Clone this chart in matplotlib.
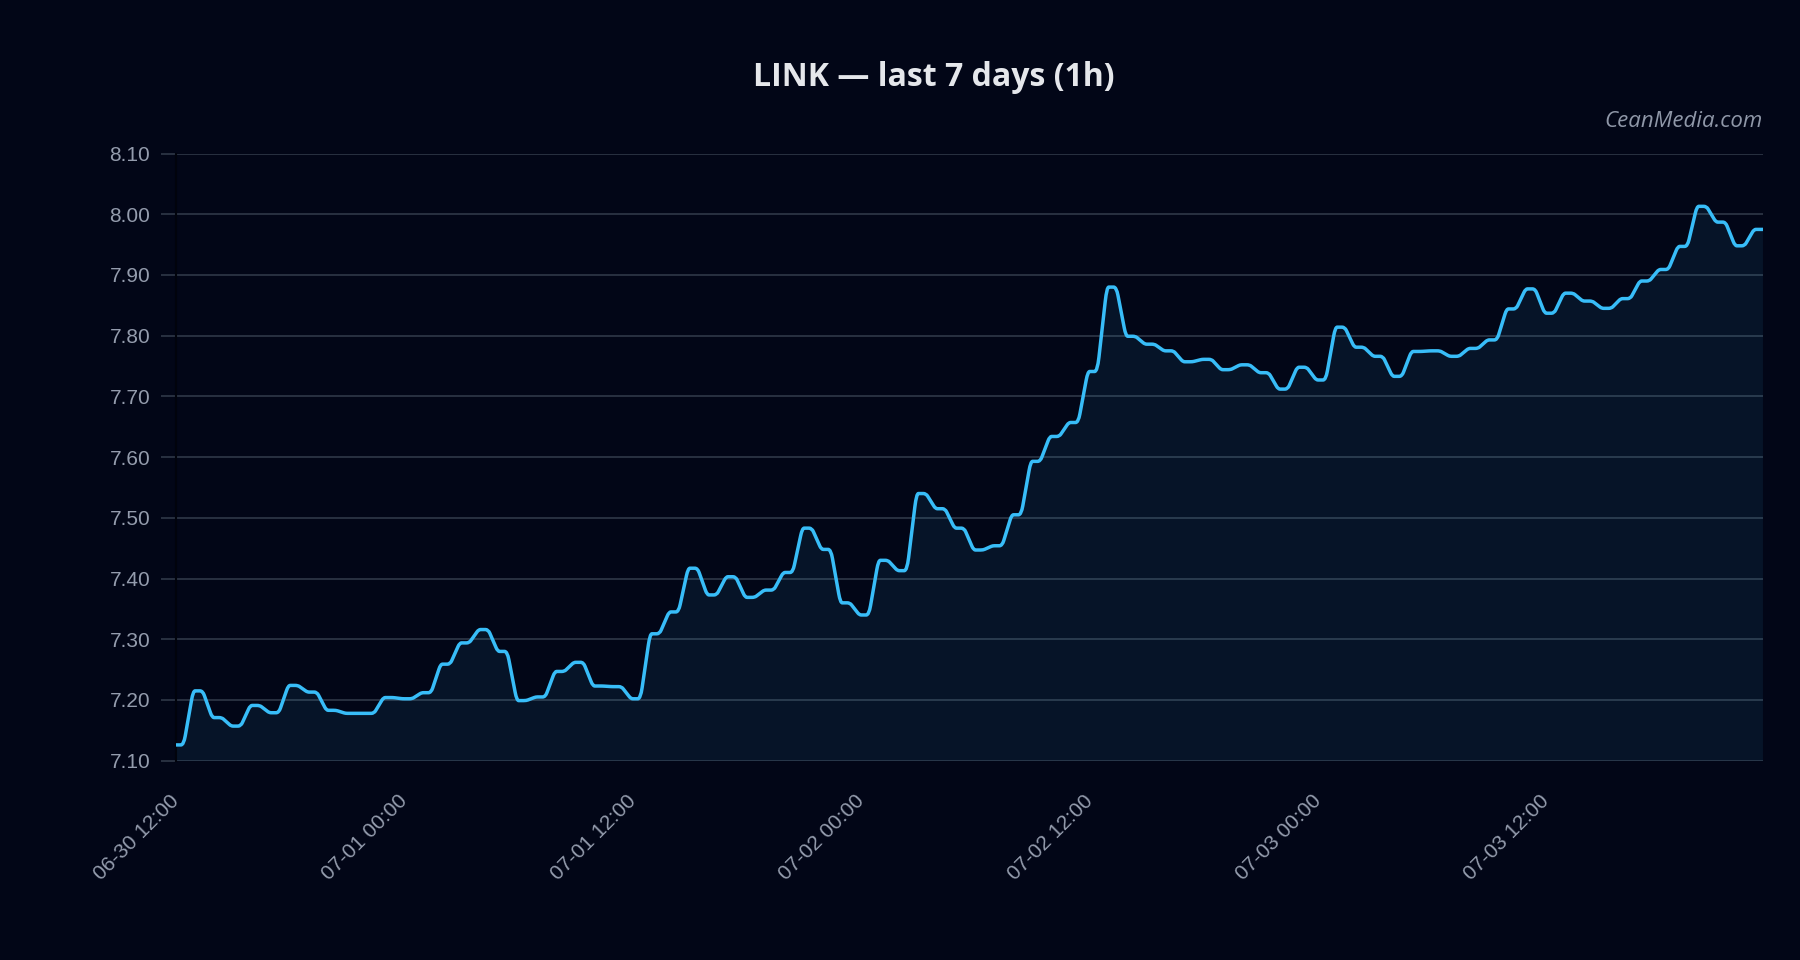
import datetime as dt
import matplotlib
matplotlib.use('Agg')
import matplotlib.pyplot as plt
import matplotlib.dates as mdates
from matplotlib.path import Path
from matplotlib.patches import PathPatch

# hourly LINK closes from 06-30 12:00, last value is the live tick at 23:22
start = dt.datetime(2025, 6, 30, 12, 0)
prices = [
    7.126, 7.215, 7.171, 7.157, 7.191, 7.179, 7.224, 7.213, 7.183, 7.178,
    7.178, 7.204, 7.202, 7.212, 7.259, 7.294, 7.316, 7.280, 7.199, 7.205,
    7.247, 7.262, 7.223, 7.222, 7.202, 7.309, 7.345, 7.417, 7.373, 7.403,
    7.369, 7.381, 7.410, 7.483, 7.448, 7.360, 7.340, 7.430, 7.413, 7.540,
    7.515, 7.483, 7.447, 7.454, 7.505, 7.593, 7.634, 7.657, 7.741, 7.880,
    7.799, 7.786, 7.775, 7.757, 7.761, 7.744, 7.752, 7.739, 7.712, 7.748,
    7.727, 7.814, 7.781, 7.766, 7.733, 7.774, 7.775, 7.766, 7.779, 7.793,
    7.844, 7.877, 7.837, 7.870, 7.857, 7.845, 7.861, 7.890, 7.909, 7.947,
    8.013, 7.987, 7.948, 7.975,
]
last_price = 7.975
last_time = dt.datetime(2025, 7, 3, 23, 22)

times = [start + dt.timedelta(hours=i) for i in range(len(prices))] + [last_time]
prices = prices + [last_price]

y_ticks = [7.10, 7.20, 7.30, 7.40, 7.50, 7.60, 7.70, 7.80, 7.90, 8.00, 8.10]
x_ticks = [start + dt.timedelta(hours=12 * i) for i in range(7)]
title = 'LINK \u2014 last 7 days (1h)'
credit = 'CeanMedia.com'

BG = '#020617'
LINE = '#38bdf8'
GRID = '#2c3444'
TXT = '#949cad'

xs = mdates.date2num(times)

# each hour: hold the level, then a quick ramp into the next one,
# corners rounded with quadratic beziers
A, B = 0.40, 0.90      # ramp start / end as fraction of the interval
rh = 0.14              # horizontal rounding (fraction of interval)
rr = 0.17              # rounding along the ramp (fraction of ramp)
verts = [(xs[0], prices[0])]
codes = [Path.MOVETO]
for i in range(len(xs) - 1):
    x0, y0, x1, y1 = xs[i], prices[i], xs[i + 1], prices[i + 1]
    d = x1 - x0
    ax_, bx_ = x0 + A * d, x0 + B * d
    rx, ry = bx_ - ax_, y1 - y0
    verts += [(ax_ - rh * d, y0),
              (ax_, y0), (ax_ + rr * rx, y0 + rr * ry),
              (bx_ - rr * rx, y1 - rr * ry),
              (bx_, y1), (min(bx_ + rh * d * 0.7, x1), y1),
              (x1, y1)]
    codes += [Path.LINETO,
              Path.CURVE3, Path.CURVE3,
              Path.LINETO,
              Path.CURVE3, Path.CURVE3,
              Path.LINETO]

ymin, ymax = y_ticks[0], y_ticks[-1]
fill_verts = verts + [(xs[-1], ymin), (xs[0], ymin), (xs[0], prices[0])]
fill_codes = codes + [Path.LINETO, Path.LINETO, Path.CLOSEPOLY]

fig = plt.figure(figsize=(18, 9.6), dpi=100, facecolor=BG)
ax = fig.add_axes([0.0978, 0.2076, 0.8816, 0.6325], facecolor=BG)

ax.add_patch(PathPatch(Path(fill_verts, fill_codes), facecolor=LINE, alpha=0.08,
                       edgecolor='none', zorder=1))
ax.add_patch(PathPatch(Path(verts, codes), fill=False, edgecolor=LINE, lw=2.5,
                       capstyle='round', joinstyle='round', zorder=3))

ax.set_xlim(xs[0], xs[-1])
ax.set_ylim(ymin, ymax)

ax.set_yticks(y_ticks)
ax.set_yticklabels(['%.2f' % v for v in y_ticks])
ax.set_xticks(mdates.date2num(x_ticks))
ax.set_xticklabels([t.strftime('%m-%d %H:%M') for t in x_ticks])

ax.grid(axis='y', color=GRID, lw=1.3, zorder=0)
ax.set_axisbelow(True)
for s in ['top', 'right', 'bottom']:
    ax.spines[s].set_visible(False)
ax.spines['left'].set_color('#01030c')
ax.spines['left'].set_linewidth(1.5)

ax.tick_params(axis='y', length=11, width=1.3, color=GRID, pad=7.5,
               labelcolor=TXT, labelsize=15)
ax.tick_params(axis='x', length=0, pad=27, labelcolor=TXT, labelsize=15)
for lab in ax.get_xticklabels() + ax.get_yticklabels():
    lab.set_fontfamily('Liberation Sans')
for lab in ax.get_xticklabels():
    lab.set_rotation(45)
    lab.set_ha('right')
    lab.set_va('center')
    lab.set_rotation_mode('anchor')

fig.text(0.519, 0.919, title, ha='center', va='center', color='#e5e7eb',
         fontsize=23, fontweight='bold', family='Open Sans')
fig.text(0.9794, 0.873, credit, ha='right', va='center', color='#8f97a8',
         fontsize=16, style='italic', family='Open Sans')

fig.savefig('out.png', dpi=100, facecolor=BG)
plt.close()
